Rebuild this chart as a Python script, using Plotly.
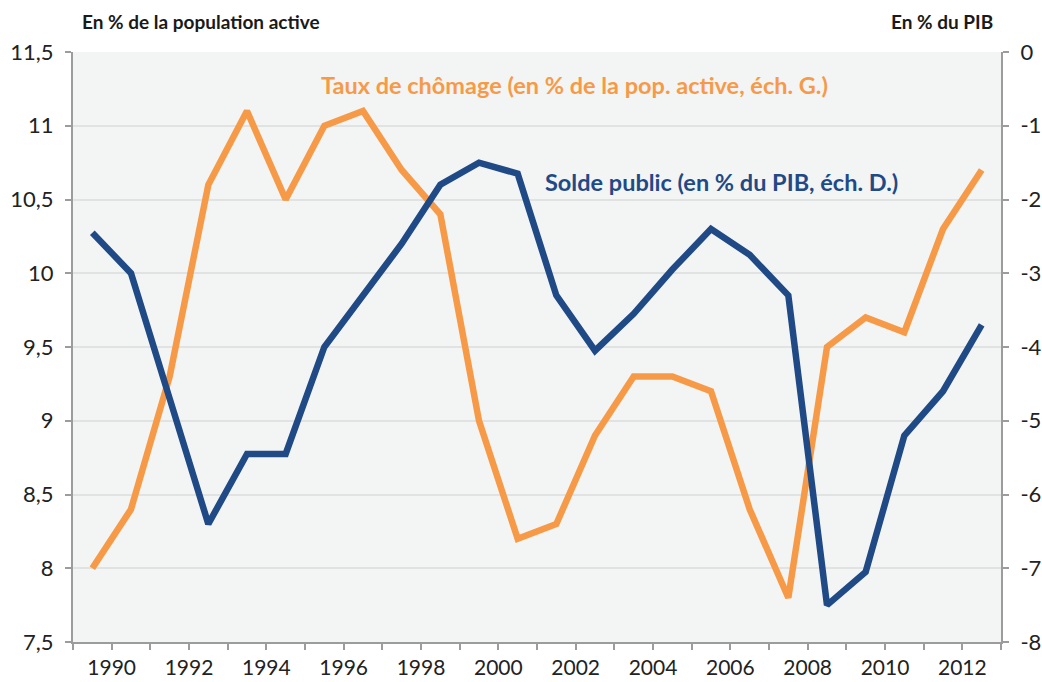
import plotly.graph_objects as go

years = list(range(1989, 2013))
chomage = [8.0, 8.4, 9.3, 10.6, 11.1, 10.5, 11.0, 11.1, 10.7, 10.4, 9.0, 8.2,
           8.3, 8.9, 9.3, 9.3, 9.2, 8.4, 7.8, 9.5, 9.7, 9.6, 10.3, 10.7]
solde = [-2.45, -3.0, -4.7, -6.4, -5.45, -5.45, -4.0, -3.3, -2.6, -1.8, -1.5, -1.65,
         -3.3, -4.05, -3.55, -2.95, -2.4, -2.75, -3.3, -7.5, -7.05, -5.2, -4.6, -3.7]
x_labels = list(range(1990, 2013, 2))
right_ticks = list(range(-8, 1))

ORANGE = "#F79A48"
BLUE = "#1F4A85"
FONT = "Lato"
TICK_SIZE = 22

# annual values drawn at mid-year
xpos = [y + 0.5 for y in years]

fig = go.Figure()
fig.add_trace(go.Scatter(x=xpos, y=chomage, mode="lines", name="Taux de chômage",
                         line=dict(color=ORANGE, width=6.5), yaxis="y"))
fig.add_trace(go.Scatter(x=xpos, y=solde, mode="lines", name="Solde public",
                         line=dict(color=BLUE, width=6.5), yaxis="y2"))

axis_col = "#9C9C9C"
tickfont = dict(family=FONT, size=TICK_SIZE, color="#222222")
fig.update_layout(
    width=1042, height=682,
    margin=dict(l=73, r=41, t=52, b=40),
    paper_bgcolor="white",
    plot_bgcolor="#F3F4F4",
    separators=", ",
    showlegend=False,
    font=dict(family=FONT, size=TICK_SIZE, color="#222222"),
    xaxis=dict(
        range=[1989, 2013], automargin=False,
        tickmode="array", tickvals=x_labels, ticktext=[str(v) for v in x_labels],
        ticks="outside", ticklen=6, tickcolor=axis_col, tickwidth=1.5,
        minor=dict(dtick=1, tick0=1989, ticks="outside", ticklen=6,
                   tickcolor=axis_col, tickwidth=1.5, showgrid=False),
        showgrid=False, zeroline=False,
        showline=True, linecolor=axis_col, linewidth=2,
        ticklabelstandoff=0,
        tickfont=dict(family=FONT, size=21, color="#222222"),
    ),
    yaxis=dict(
        range=[7.5, 11.5], dtick=0.5, tick0=7.5, automargin=False,
        ticks="outside", ticklen=6, tickcolor=axis_col, tickwidth=1.5,
        showgrid=True, gridcolor="#E1E2E2", gridwidth=1.5,
        zeroline=False,
        showline=True, linecolor=axis_col, linewidth=2,
        ticklabelstandoff=7,
        tickfont=tickfont,
    ),
    yaxis2=dict(
        range=[-8, 0], overlaying="y", side="right", automargin=False,
        tickmode="array", tickvals=right_ticks, ticktext=[str(v) for v in right_ticks],
        ticks="outside", ticklen=6, tickcolor=axis_col, tickwidth=1.5,
        showgrid=False, zeroline=False,
        showline=True, linecolor=axis_col, linewidth=2,
        ticklabelstandoff=7,
        tickfont=tickfont,
    ),
)

fig.add_annotation(text="<b>En % de la population active</b>", xref="paper", yref="paper",
                   x=0.0075, y=1.051, xanchor="left", yanchor="middle", showarrow=False,
                   font=dict(family=FONT, size=19, color="#1A1A1A"))
fig.add_annotation(text="<b>En % du PIB</b>", xref="paper", yref="paper",
                   x=0.9935, y=1.051, xanchor="right", yanchor="middle", showarrow=False,
                   font=dict(family=FONT, size=19, color="#1A1A1A"))
fig.add_annotation(text="<b>Taux de chômage (en % de la pop. active, éch. G.)</b>",
                   xref="paper", yref="paper", x=0.54, y=0.944,
                   xanchor="center", yanchor="middle", showarrow=False,
                   font=dict(family=FONT, size=23.5, color=ORANGE))
fig.add_annotation(text="<b>Solde public (en % du PIB, éch. D.)</b>",
                   xref="paper", yref="paper", x=0.6993, y=0.7797,
                   xanchor="center", yanchor="middle", showarrow=False,
                   font=dict(family=FONT, size=23.5, color=BLUE))

fig.write_html("out.html",
               config={"displayModeBar": False},
               post_script="document.body.style.margin='0';document.body.style.overflow='hidden';")
